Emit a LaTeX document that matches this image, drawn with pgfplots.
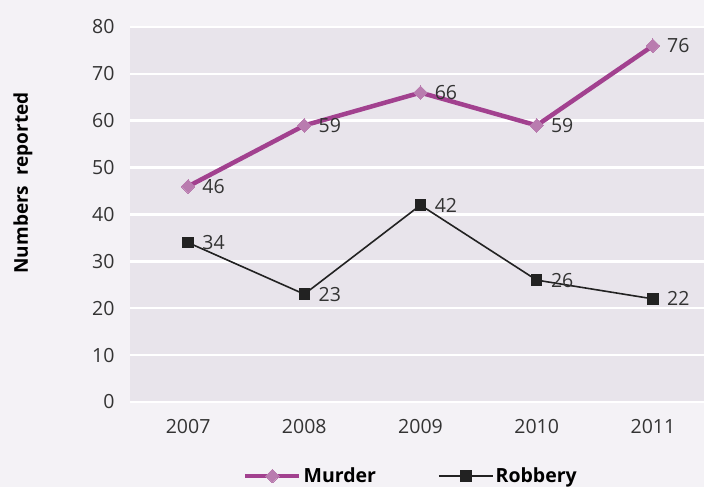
\documentclass[border=0pt]{standalone}
\usepackage{pgfplots}
\pgfplotsset{compat=1.18}
\usepackage{fontspec}
\setmainfont{Open Sans}
\definecolor{outerbg}{HTML}{F4F2F6}
\definecolor{plotbg}{HTML}{E8E4EB}
\definecolor{murderline}{HTML}{A2418F}
\definecolor{murdermark}{HTML}{B97CAF}
\definecolor{robcol}{HTML}{222222}
\definecolor{txt}{HTML}{333333}
\begin{document}
\begin{tikzpicture}
\path[fill=outerbg, use as bounding box] (-130pt,-85pt) rectangle (574pt,402pt);
\begin{axis}[
  at={(0pt,0pt)}, anchor=south west,
  scale only axis,
  width=581pt, height=375pt,
  xmin=-0.5, xmax=4.5, ymin=0, ymax=80,
  xtick={0,1,2,3,4},
  xticklabels={2007,2008,2009,2010,2011},
  ytick={0,10,...,80},
  axis line style={draw=none},
  major tick length=0pt,
  ymajorgrids, grid style={white, line width=2.5pt},
  axis background/.style={fill=plotbg},
  tick label style={font=\fontsize{19.5}{22}\selectfont, text=txt},
  /pgf/number format/assume math mode=true,
  yticklabel style={xshift=-12pt},
  xticklabel style={yshift=-14pt},
  every axis y label/.style={at={(axis description cs:0,0.584)}, rotate=90, anchor=center, yshift=107pt},
  ylabel={\fontsize{19}{22}\selectfont\bfseries Numbers\ \ reported},
  clip=false,
  legend style={at={(281pt,-74pt)}, anchor=center, draw=none, fill=none,
    legend columns=2, font=\fontsize{19.5}{22}\selectfont\bfseries,
    /tikz/every even column/.append style={column sep=60pt}},
  legend image code/.code={\draw[mark repeat=2,mark phase=2] plot coordinates {(0pt,0pt)(27pt,0pt)(54pt,0pt)};},
  nodes near coords,
  every node near coord/.append style={font=\fontsize{19.5}{22}\selectfont, text=txt, anchor=west, xshift=11pt},
]
\addplot[murderline, line width=4.5pt, mark=square*, mark size=4.8pt,
  mark options={rotate=45, fill=murdermark, draw=murdermark, line width=0pt}]
  coordinates {(0,46) (1,59) (2,66) (3,59) (4,76)};
\addlegendentry{Murder}
\addplot[robcol, line width=1.6pt, mark=square*, mark size=5.2pt,
  mark options={fill=robcol, draw=robcol, line width=0pt}]
  coordinates {(0,34) (1,23) (2,42) (3,26) (4,22)};
\addlegendentry{Robbery}
\end{axis}
\end{tikzpicture}
\end{document}
